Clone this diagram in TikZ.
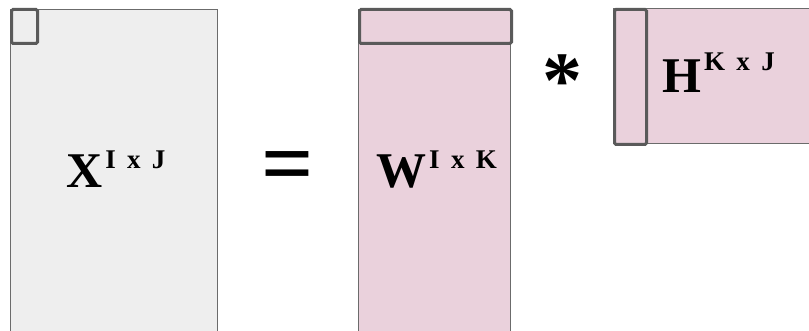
\documentclass[tikz,border=0pt]{standalone}
\usepackage{fontspec}
\setmainfont{Liberation Serif}
\usetikzlibrary{positioning}
\definecolor{matgray}{HTML}{EEEEEE}
\definecolor{matpink}{HTML}{EAD1DC}
\definecolor{edgegray}{HTML}{6B6B6B}
\definecolor{blockgray}{HTML}{5A5A5A}
\newcommand{\matlabel}[3]{{\fontsize{50}{50}\selectfont\bfseries #1}\hspace{3pt}{\fontsize{27}{27}\selectfont\bfseries\spaceskip=0.42em\raisebox{#3}{#2}}}

\begin{document}
\begin{tikzpicture}[x=1pt,y=-1pt,
    matbox/.style={draw=edgegray, line width=1.2pt, inner sep=0pt, anchor=north west},
    blockbox/.style={draw=blockgray, line width=3pt, rounded corners=1.5pt, inner sep=0pt, anchor=north west},
    lbl/.style={anchor=base west, inner sep=0pt}]
    \useasboundingbox (0,0) rectangle (809,331);

    % Matrices
    \node[matbox, fill=matgray, minimum width=207pt, minimum height=322pt] (X) at (10,9) {};
    \node[matbox, fill=matpink, minimum width=152pt, minimum height=322pt] (W) at (358,9) {};
    \node[matbox, fill=matpink, minimum width=220pt, minimum height=135pt] (H) at (613,8) {};

    % Highlighted blocks
    \node[blockbox, minimum width=26pt, minimum height=34pt] (xcell) at (10,8) {};
    \node[blockbox, minimum width=152pt, minimum height=34pt] (wrow) at (358,8) {};
    \node[blockbox, minimum width=32pt, minimum height=135pt] (hcol) at (613,8) {};

    % Labels
    \node[lbl] (xlabel) at (66,188) {\matlabel{X}{I x J}{19pt}};
    \node[lbl] (wlabel) at (376,188) {\matlabel{W}{I x K}{19pt}};
    \node[lbl] (hlabel) at (662,93) {\matlabel{H}{K x J}{22pt}};

    % Operators
    \node (equals) at (288,173) {\fontsize{92}{92}\selectfont\bfseries =};
    \node (times) at (562,81) {\fontsize{80}{80}\selectfont\bfseries *};
\end{tikzpicture}
\end{document}
